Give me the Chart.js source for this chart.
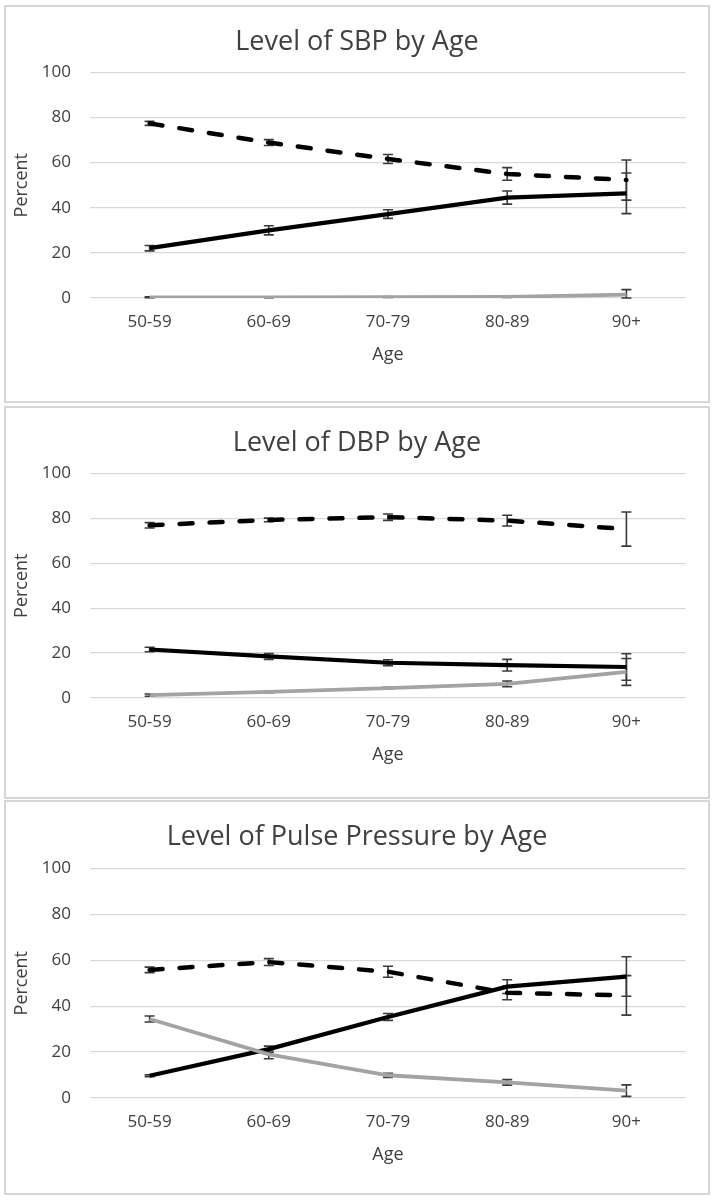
<!DOCTYPE html>
<html>
<head>
<meta charset="utf-8">
<script src="https://cdn.jsdelivr.net/npm/chart.js@4"></script>
<style>
  body { margin:0; background:#fff; width:713px; height:1200px; position:relative; }
  .panel { position:absolute; left:4px; width:702px; border:2px solid #d6d6d6; background:#fff; }
  .panel canvas { display:block; }
</style>
</head>
<body>
<div class="panel" style="top:5px;height:394px"><canvas id="sbp" width="702" height="394"></canvas></div>
<div class="panel" style="top:406px;height:389px"><canvas id="dbp" width="702" height="389"></canvas></div>
<div class="panel" style="top:800px;height:391px"><canvas id="pp" width="702" height="391"></canvas></div>
<script>
const ages = ['50-59', '60-69', '70-79', '80-89', '90+'];

// Level of SBP by Age
const sbpDashed = [77.4, 68.9, 61.6, 55.0, 52.3];
const sbpDashedErr = [0.9, 1.3, 2.0, 2.8, 8.9];
const sbpSolid = [22.1, 30.0, 37.2, 44.5, 46.4];
const sbpSolidErr = [1.2, 2.0, 1.9, 2.9, 9.0];
const sbpGray = [0.3, 0.3, 0.4, 0.5, 1.5];
const sbpGrayErr = [0.2, 0.2, 0.2, 0.3, 2.2];

// Level of DBP by Age
const dbpDashed = [76.9, 79.3, 80.5, 79.0, 75.2];
const dbpDashedErr = [1.2, 0.8, 1.4, 2.4, 7.6];
const dbpSolid = [21.6, 18.5, 15.7, 14.6, 13.8];
const dbpSolidErr = [1.0, 1.3, 1.3, 2.6, 5.9];
const dbpGray = [1.3, 2.7, 4.4, 6.3, 11.6];
const dbpGrayErr = [0.5, 0.3, 0.4, 1.3, 6.0];

// Level of Pulse Pressure by Age
const ppDashed = [55.8, 59.2, 55.0, 45.8, 44.7];
const ppDashedErr = [1.2, 1.5, 2.4, 3.0, 8.6];
const ppSolid = [9.7, 21.3, 35.3, 48.5, 52.9];
const ppSolidErr = [0.4, 1.3, 1.5, 3.0, 8.6];
const ppGray = [34.4, 19.0, 9.9, 6.8, 3.2];
const ppGrayErr = [1.3, 1.9, 0.9, 1.2, 2.5];

const yTicks = [0, 20, 40, 60, 80, 100];

const textColor = '#404040';
const font = "'Open Sans', sans-serif";

// draws symmetric error bars under the lines, using the chart's own scales
const errorBars = {
  id: 'errorBars',
  beforeDatasetsDraw(chart) {
    const ctx = chart.ctx;
    const x = chart.scales.x, y = chart.scales.y;
    ctx.save();
    ctx.strokeStyle = '#3a3a3a';
    ctx.lineWidth = 1.6;
    chart.data.datasets.forEach(ds => {
      if (!ds.errors) return;
      ds.data.forEach((v, i) => {
        const e = ds.errors[i];
        const px = x.getPixelForValue(i);
        const top = y.getPixelForValue(v + e);
        const bot = y.getPixelForValue(Math.max(0, v - e));
        ctx.beginPath();
        ctx.moveTo(px, top); ctx.lineTo(px, bot);
        ctx.moveTo(px - 5, top); ctx.lineTo(px + 5, top);
        ctx.moveTo(px - 5, bot); ctx.lineTo(px + 5, bot);
        ctx.stroke();
      });
    });
    ctx.restore();
  }
};

function makeChart(id, title, dashed, dashedErr, solid, solidErr, gray, grayErr, titlePad, bottomSpace) {
  return new Chart(document.getElementById(id), {
    type: 'line',
    data: {
      labels: ages,
      datasets: [
        { data: gray, errors: grayErr, borderColor: '#a3a3a3', borderWidth: 3.8, pointRadius: 0, tension: 0 },
        { data: solid, errors: solidErr, borderColor: '#000', borderWidth: 4.2, pointRadius: 0, tension: 0 },
        { data: dashed, errors: dashedErr, borderColor: '#000', borderWidth: 4.5, borderDash: [13, 17], borderCapStyle: 'round', pointRadius: 0, tension: 0 }
      ]
    },
    options: {
      responsive: false,
      animation: false,
      layout: { padding: 0 },
      plugins: {
        legend: { display: false },
        tooltip: { enabled: false },
        title: {
          display: true, text: title, color: textColor,
          font: { family: font, size: 27, weight: 'normal', lineHeight: 1.2 },
          padding: titlePad
        }
      },
      scales: {
        x: {
          offset: true,
          grid: { display: false, drawTicks: false },
          border: { display: false },
          ticks: { color: textColor, font: { family: font, size: 17 }, padding: 14 },
          title: { display: true, text: 'Age', color: textColor, font: { family: font, size: 18, lineHeight: 1.2 }, padding: { top: 0, bottom: bottomSpace - 68 } },
          afterFit(s) { s.height = bottomSpace; }
        },
        y: {
          min: 0, max: 100,
          afterBuildTicks(s) { s.ticks = yTicks.map(v => ({ value: v })); },
          grid: { color: '#d9d9d9', lineWidth: 1.3, drawTicks: false },
          border: { display: false },
          ticks: { color: textColor, font: { family: font, size: 17 }, padding: 19 },
          title: { display: true, text: 'Percent', color: textColor, font: { family: font, size: 18, lineHeight: 1.2 }, padding: { top: 5, bottom: 0 } },
          afterFit(s) { s.width = 84; }
        },
        // empty right-hand margin so the title stays centred on the whole panel
        yRight: {
          position: 'right', min: 0, max: 100,
          grid: { display: false, drawTicks: false },
          border: { display: false },
          ticks: { display: false },
          afterFit(s) { s.width = 22; }
        }
      }
    },
    plugins: [errorBars]
  });
}

makeChart('sbp', 'Level of SBP by Age', sbpDashed, sbpDashedErr, sbpSolid, sbpSolidErr, sbpGray, sbpGrayErr,
  { top: 19, bottom: 14 }, 103);
makeChart('dbp', 'Level of DBP by Age', dbpDashed, dbpDashedErr, dbpSolid, dbpSolidErr, dbpGray, dbpGrayErr,
  { top: 19, bottom: 14 }, 99);
makeChart('pp', 'Level of Pulse Pressure by Age', ppDashed, ppDashedErr, ppSolid, ppSolidErr, ppGray, ppGrayErr,
  { top: 19, bottom: 15 }, 95);
</script>
</body>
</html>
